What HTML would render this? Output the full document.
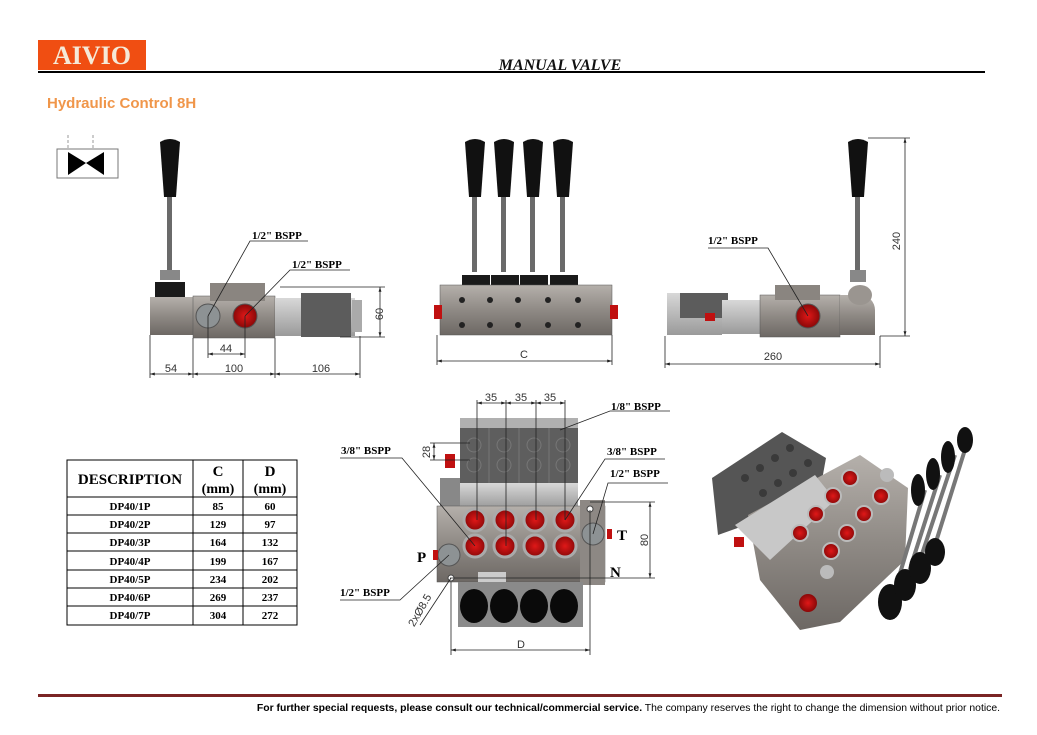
<!DOCTYPE html>
<html><head><meta charset="utf-8"><style>
body{margin:0;background:#fff;}
svg{display:block;}
.s{font-family:"Liberation Serif",serif;font-weight:bold;}
.d{font-family:"Liberation Sans",sans-serif;font-size:11px;fill:#333;}
</style></head><body>
<svg width="1037" height="735" viewBox="0 0 1037 735" xmlns="http://www.w3.org/2000/svg">
<defs>
<linearGradient id="g1" x1="0" y1="0" x2="0" y2="1"><stop offset="0" stop-color="#b5b0ab"/><stop offset=".5" stop-color="#8f8a85"/><stop offset="1" stop-color="#6d6864"/></linearGradient>
<linearGradient id="g2" x1="0" y1="0" x2="0" y2="1"><stop offset="0" stop-color="#d8d8d8"/><stop offset="1" stop-color="#9a9a9a"/></linearGradient>
<radialGradient id="rd"><stop offset="0" stop-color="#e01818"/><stop offset="1" stop-color="#8a0808"/></radialGradient>
<marker id="a" viewBox="0 0 10 10" refX="10" refY="5" markerWidth="6" markerHeight="6" orient="auto-start-reverse"><path d="M0,2L10,5L0,8z" fill="#222"/></marker>
</defs>
<rect x="38" y="40" width="108" height="30" fill="#f04e12"/>
<text x="92" y="64" text-anchor="middle" class="s" font-size="26" fill="#f5ead8">AIVIO</text>
<text x="560" y="70" text-anchor="middle" font-family="Liberation Serif,serif" font-style="italic" font-weight="bold" font-size="16" fill="#111">MANUAL VALVE</text>
<rect x="38" y="71" width="947" height="2" fill="#000"/>
<text x="47" y="108" font-family="Liberation Sans,sans-serif" font-weight="bold" font-size="15" fill="#f0964a">Hydraulic Control 8H</text>
<rect x="57" y="149" width="61" height="29" fill="#fff" stroke="#777"/>
<line x1="68" y1="135" x2="68" y2="149" stroke="#999" stroke-dasharray="3,2"/>
<line x1="93" y1="135" x2="93" y2="149" stroke="#999" stroke-dasharray="3,2"/>
<path d="M68,152L86,163L68,175z M104,152L86,163L104,175z" fill="#000"/>

<g>
<path d="M160,142q10,-6 20,0l-4,55h-12z" fill="#111"/>
<rect x="167" y="197" width="5" height="75" fill="#6a6a6a"/>
<rect x="160" y="270" width="20" height="10" fill="#888"/>
<path d="M155,282h30v20h-30z" fill="#1a1a1a"/>
<rect x="150" y="297" width="45" height="38" fill="url(#g1)"/>
<rect x="193" y="296" width="82" height="42" fill="url(#g1)" stroke="#555" stroke-width=".5"/>
<rect x="210" y="283" width="55" height="18" fill="#8a8580"/>
<circle cx="208" cy="316" r="12" fill="#8d9294" stroke="#555"/>
<circle cx="245" cy="316" r="12" fill="url(#rd)" stroke="#555"/>
<rect x="275" y="298" width="80" height="38" fill="url(#g2)"/>
<rect x="301" y="293" width="50" height="44" fill="#5c5c5c"/>
<rect x="352" y="300" width="10" height="32" fill="#aaa"/>
<g stroke="#222" stroke-width=".8" fill="none">
<line x1="150" y1="335" x2="150" y2="378"/><line x1="193" y1="338" x2="193" y2="378"/><line x1="275" y1="338" x2="275" y2="378"/><line x1="360" y1="336" x2="360" y2="378"/>
<line x1="150" y1="374" x2="193" y2="374" marker-start="url(#a)" marker-end="url(#a)"/>
<line x1="193" y1="374" x2="275" y2="374" marker-start="url(#a)" marker-end="url(#a)"/>
<line x1="275" y1="374" x2="360" y2="374" marker-start="url(#a)" marker-end="url(#a)"/>
<line x1="208" y1="316" x2="208" y2="358"/><line x1="245" y1="316" x2="245" y2="358"/>
<line x1="208" y1="354" x2="245" y2="354" marker-start="url(#a)" marker-end="url(#a)"/>
<line x1="280" y1="287" x2="385" y2="287"/><line x1="340" y1="337" x2="385" y2="337"/>
<line x1="380" y1="287" x2="380" y2="337" marker-start="url(#a)" marker-end="url(#a)"/>
<path d="M208,316L250,241h58"/><path d="M245,316L290,270h60"/>
</g>
<text x="171" y="372" class="d" text-anchor="middle">54</text>
<text x="234" y="372" class="d" text-anchor="middle">100</text>
<text x="321" y="372" class="d" text-anchor="middle">106</text>
<text x="226" y="352" class="d" text-anchor="middle">44</text>
<text x="383" y="314" class="d" transform="rotate(-90 383 314)" text-anchor="middle">60</text>
<text x="252" y="239" class="s" font-size="11">1/2" BSPP</text>
<text x="292" y="268" class="s" font-size="11">1/2" BSPP</text>
</g>

<g>
<g fill="#111"><path d="M465,142q10,-6 20,0l-4,55h-12z"/><path d="M494,142q10,-6 20,0l-4,55h-12z"/><path d="M523,142q10,-6 20,0l-4,55h-12z"/><path d="M553,142q10,-6 20,0l-4,55h-12z"/></g>
<g fill="#6a6a6a"><rect x="472" y="197" width="5" height="75"/><rect x="501" y="197" width="5" height="75"/><rect x="530" y="197" width="5" height="75"/><rect x="560" y="197" width="5" height="75"/></g>
<g fill="#1a1a1a"><rect x="462" y="275" width="28" height="18"/><rect x="491" y="275" width="28" height="18"/><rect x="520" y="275" width="28" height="18"/><rect x="550" y="275" width="28" height="18"/></g>
<rect x="440" y="285" width="172" height="50" fill="url(#g1)" stroke="#555" stroke-width=".5"/>
<rect x="434" y="305" width="8" height="14" fill="#c01010"/><rect x="610" y="305" width="8" height="14" fill="#c01010"/>
<g fill="#222"><circle cx="462" cy="300" r="3"/><circle cx="490" cy="300" r="3"/><circle cx="518" cy="300" r="3"/><circle cx="548" cy="300" r="3"/><circle cx="578" cy="300" r="3"/><circle cx="462" cy="325" r="3"/><circle cx="490" cy="325" r="3"/><circle cx="518" cy="325" r="3"/><circle cx="548" cy="325" r="3"/><circle cx="578" cy="325" r="3"/></g>
<g stroke="#222" stroke-width=".8"><line x1="437" y1="335" x2="437" y2="365"/><line x1="612" y1="335" x2="612" y2="365"/>
<line x1="437" y1="361" x2="612" y2="361" marker-start="url(#a)" marker-end="url(#a)"/></g>
<text x="524" y="358" class="d" text-anchor="middle">C</text>
</g>

<g>
<path d="M848,142q10,-6 20,0l-4,55h-12z" fill="#111"/>
<rect x="855" y="197" width="5" height="75" fill="#6a6a6a"/>
<rect x="850" y="270" width="16" height="12" fill="#888"/>
<rect x="667" y="293" width="55" height="42" fill="url(#g2)"/>
<rect x="680" y="293" width="48" height="25" fill="#5c5c5c"/>
<rect x="705" y="313" width="10" height="8" fill="#c01010"/>
<rect x="722" y="300" width="40" height="34" fill="url(#g2)"/>
<rect x="760" y="295" width="80" height="42" fill="url(#g1)" stroke="#555" stroke-width=".5"/>
<rect x="775" y="285" width="45" height="15" fill="#8a8580"/>
<circle cx="808" cy="316" r="12" fill="url(#rd)" stroke="#555"/>
<path d="M840,295h20a15,15 0 0 1 15,15v25h-35z" fill="url(#g1)"/>
<ellipse cx="860" cy="295" rx="12" ry="10" fill="#9a9590"/>
<g stroke="#222" stroke-width=".8" fill="none">
<line x1="868" y1="138" x2="910" y2="138"/><line x1="880" y1="336" x2="910" y2="336"/>
<line x1="905" y1="138" x2="905" y2="336" marker-start="url(#a)" marker-end="url(#a)"/>
<line x1="665" y1="336" x2="665" y2="368"/><line x1="880" y1="336" x2="880" y2="368"/>
<line x1="665" y1="364" x2="880" y2="364" marker-start="url(#a)" marker-end="url(#a)"/>
<path d="M708,248h60l40,68"/>
</g>
<text x="773" y="360" class="d" text-anchor="middle">260</text>
<text x="900" y="241" class="d" transform="rotate(-90 900 241)" text-anchor="middle">240</text>
<text x="708" y="244" class="s" font-size="11">1/2" BSPP</text>
</g>

<g font-family="Liberation Serif,serif" font-weight="bold" fill="#000">
<rect x="67" y="460" width="230" height="165" fill="none" stroke="#000"/>
<line x1="193" y1="460" x2="193" y2="625" stroke="#000"/><line x1="243" y1="460" x2="243" y2="625" stroke="#000"/>
<line x1="67" y1="497" x2="297" y2="497" stroke="#000"/>
<g stroke="#000"><line x1="67" y1="515" x2="297" y2="515"/><line x1="67" y1="533" x2="297" y2="533"/><line x1="67" y1="551" x2="297" y2="551"/><line x1="67" y1="570" x2="297" y2="570"/><line x1="67" y1="588" x2="297" y2="588"/><line x1="67" y1="606" x2="297" y2="606"/></g>
<text x="130" y="484" font-size="15" text-anchor="middle">DESCRIPTION</text>
<text x="218" y="476" font-size="15" text-anchor="middle">C</text><text x="218" y="493" font-size="14" text-anchor="middle">(mm)</text>
<text x="270" y="476" font-size="15" text-anchor="middle">D</text><text x="270" y="493" font-size="14" text-anchor="middle">(mm)</text>
<g font-size="11" text-anchor="middle">
<text x="130" y="510">DP40/1P</text><text x="218" y="510">85</text><text x="270" y="510">60</text>
<text x="130" y="528">DP40/2P</text><text x="218" y="528">129</text><text x="270" y="528">97</text>
<text x="130" y="546">DP40/3P</text><text x="218" y="546">164</text><text x="270" y="546">132</text>
<text x="130" y="565">DP40/4P</text><text x="218" y="565">199</text><text x="270" y="565">167</text>
<text x="130" y="583">DP40/5P</text><text x="218" y="583">234</text><text x="270" y="583">202</text>
<text x="130" y="601">DP40/6P</text><text x="218" y="601">269</text><text x="270" y="601">237</text>
<text x="130" y="619">DP40/7P</text><text x="218" y="619">304</text><text x="270" y="619">272</text>
</g></g>

<g>
<rect x="460" y="418" width="118" height="12" fill="#b0b0b0"/>
<rect x="460" y="428" width="118" height="55" fill="#5e5e5e"/>
<g stroke="#777" fill="none"><line x1="489" y1="428" x2="489" y2="483"/><line x1="519" y1="428" x2="519" y2="483"/><line x1="549" y1="428" x2="549" y2="483"/>
<circle cx="474" cy="445" r="7"/><circle cx="504" cy="445" r="7"/><circle cx="534" cy="445" r="7"/><circle cx="563" cy="445" r="7"/>
<circle cx="474" cy="465" r="7"/><circle cx="504" cy="465" r="7"/><circle cx="534" cy="465" r="7"/><circle cx="563" cy="465" r="7"/></g>
<rect x="460" y="483" width="118" height="25" fill="url(#g2)"/>
<rect x="445" y="454" width="10" height="14" fill="#c01010"/>
<rect x="440" y="478" width="20" height="30" fill="#888"/>
<rect x="437" y="506" width="168" height="76" fill="url(#g1)" stroke="#555" stroke-width=".5"/>
<path d="M580,500h25v85h-25z" fill="#8d8884"/>
<g fill="url(#rd)" stroke="#aaa" stroke-width="3">
<circle cx="475" cy="520" r="11"/><circle cx="505" cy="520" r="11"/><circle cx="535" cy="520" r="11"/><circle cx="565" cy="520" r="11"/>
<circle cx="475" cy="546" r="11"/><circle cx="505" cy="546" r="11"/><circle cx="535" cy="546" r="11"/><circle cx="565" cy="546" r="11"/></g>
<circle cx="449" cy="555" r="11" fill="#8d9294" stroke="#555"/><rect x="433" y="550" width="5" height="10" fill="#c01010"/>
<circle cx="593" cy="534" r="11" fill="#8d9294" stroke="#555"/><rect x="607" y="529" width="5" height="10" fill="#c01010"/>
<rect x="478" y="572" width="28" height="10" fill="#ccc"/>
<circle cx="451" cy="578" r="3" fill="#fff" stroke="#444"/><circle cx="590" cy="509" r="3" fill="#fff" stroke="#444"/>
<rect x="458" y="582" width="125" height="45" fill="#8a8a8a"/>
<g fill="#0a0a0a"><ellipse cx="474" cy="606" rx="14" ry="17"/><ellipse cx="504" cy="606" rx="14" ry="17"/><ellipse cx="534" cy="606" rx="14" ry="17"/><ellipse cx="564" cy="606" rx="14" ry="17"/></g>
<g stroke="#222" stroke-width=".8" fill="none">
<line x1="477" y1="400" x2="477" y2="520"/><line x1="506" y1="400" x2="506" y2="546"/><line x1="536" y1="400" x2="536" y2="520"/><line x1="565" y1="400" x2="565" y2="520"/>
<line x1="477" y1="403" x2="506" y2="403" marker-start="url(#a)" marker-end="url(#a)"/>
<line x1="506" y1="403" x2="536" y2="403" marker-start="url(#a)" marker-end="url(#a)"/>
<line x1="536" y1="403" x2="565" y2="403" marker-start="url(#a)" marker-end="url(#a)"/>
<line x1="430" y1="443" x2="470" y2="443"/><line x1="430" y1="460" x2="470" y2="460"/>
<line x1="434" y1="443" x2="434" y2="460" marker-start="url(#a)" marker-end="url(#a)"/>
<line x1="590" y1="502" x2="655" y2="502"/><line x1="450" y1="578" x2="655" y2="578"/>
<line x1="650" y1="502" x2="650" y2="578" marker-start="url(#a)" marker-end="url(#a)"/>
<line x1="451" y1="582" x2="451" y2="655"/><line x1="590" y1="510" x2="590" y2="655"/>
<line x1="451" y1="650" x2="590" y2="650" marker-start="url(#a)" marker-end="url(#a)"/>
<path d="M340,458h62l73,88"/><path d="M565,520l40,-61h60"/><path d="M593,534l15,-51h60"/><path d="M560,430l50,-19h60"/>
<path d="M340,600h60l49,-45"/><path d="M420,625l31,-47"/>
</g>
<text x="491" y="401" class="d" text-anchor="middle">35</text><text x="521" y="401" class="d" text-anchor="middle">35</text><text x="550" y="401" class="d" text-anchor="middle">35</text>
<text x="430" y="452" class="d" transform="rotate(-90 430 452)" text-anchor="middle">28</text>
<text x="648" y="540" class="d" transform="rotate(-90 648 540)" text-anchor="middle">80</text>
<text x="521" y="648" class="d" text-anchor="middle">D</text>
<text x="423" y="612" class="d" transform="rotate(-60 423 612)" text-anchor="middle">2xØ8.5</text>
<text x="611" y="410" class="s" font-size="11">1/8" BSPP</text>
<text x="341" y="454" class="s" font-size="11">3/8" BSPP</text>
<text x="607" y="455" class="s" font-size="11">3/8" BSPP</text>
<text x="610" y="477" class="s" font-size="11">1/2" BSPP</text>
<text x="340" y="596" class="s" font-size="11">1/2" BSPP</text>
<text x="417" y="562" class="s" font-size="15">P</text>
<text x="617" y="540" class="s" font-size="15">T</text>
<text x="610" y="577" class="s" font-size="15">N</text>
</g>

<g>
<path d="M712,478L782,432L826,458L822,480L760,520L718,535z" fill="#555"/>
<g fill="#3a3a3a"><circle cx="745" cy="478" r="4"/><circle cx="760" cy="468" r="4"/><circle cx="775" cy="458" r="4"/><circle cx="790" cy="448" r="4"/><circle cx="763" cy="493" r="4"/><circle cx="778" cy="483" r="4"/><circle cx="793" cy="473" r="4"/><circle cx="808" cy="463" r="4"/></g>
<path d="M748,515L860,455L908,488L905,560L840,622L800,630L760,580z" fill="url(#g1)"/>
<path d="M735,525L815,475L835,500L770,560z" fill="#c8c8c8"/>
<rect x="734" y="537" width="10" height="10" fill="#c01010"/>
<g fill="url(#rd)" stroke="#bbb" stroke-width="2">
<circle cx="850" cy="478" r="8"/><circle cx="833" cy="496" r="8"/><circle cx="816" cy="514" r="8"/><circle cx="800" cy="533" r="8"/>
<circle cx="881" cy="496" r="8"/><circle cx="864" cy="514" r="8"/><circle cx="847" cy="533" r="8"/><circle cx="831" cy="551" r="8"/></g>
<circle cx="808" cy="603" r="9" fill="url(#rd)"/>
<circle cx="827" cy="572" r="7" fill="#bbb"/><circle cx="887" cy="475" r="7" fill="#bbb"/>
<g stroke="#777" stroke-width="4"><line x1="895" y1="590" x2="925" y2="490"/><line x1="908" y1="575" x2="940" y2="475"/><line x1="920" y1="560" x2="955" y2="455"/><line x1="935" y1="545" x2="968" y2="440"/></g>
<g fill="#111"><ellipse cx="918" cy="490" rx="7" ry="16"/><ellipse cx="933" cy="474" rx="7" ry="16"/><ellipse cx="948" cy="457" rx="7" ry="16"/><ellipse cx="965" cy="440" rx="8" ry="13"/>
<ellipse cx="890" cy="602" rx="12" ry="18"/><ellipse cx="905" cy="585" rx="11" ry="16"/><ellipse cx="920" cy="568" rx="11" ry="16"/><ellipse cx="935" cy="552" rx="10" ry="14"/></g>
</g>

<rect x="38" y="694" width="964" height="3" fill="#7a2424"/>
<text x="1000" y="711" text-anchor="end" font-family="Liberation Sans,sans-serif" font-size="10.4" fill="#000"><tspan font-weight="bold">For further special requests, please consult our technical/commercial service.</tspan> The company reserves the right to change the dimension without prior notice.</text>
</svg>
</body></html>
